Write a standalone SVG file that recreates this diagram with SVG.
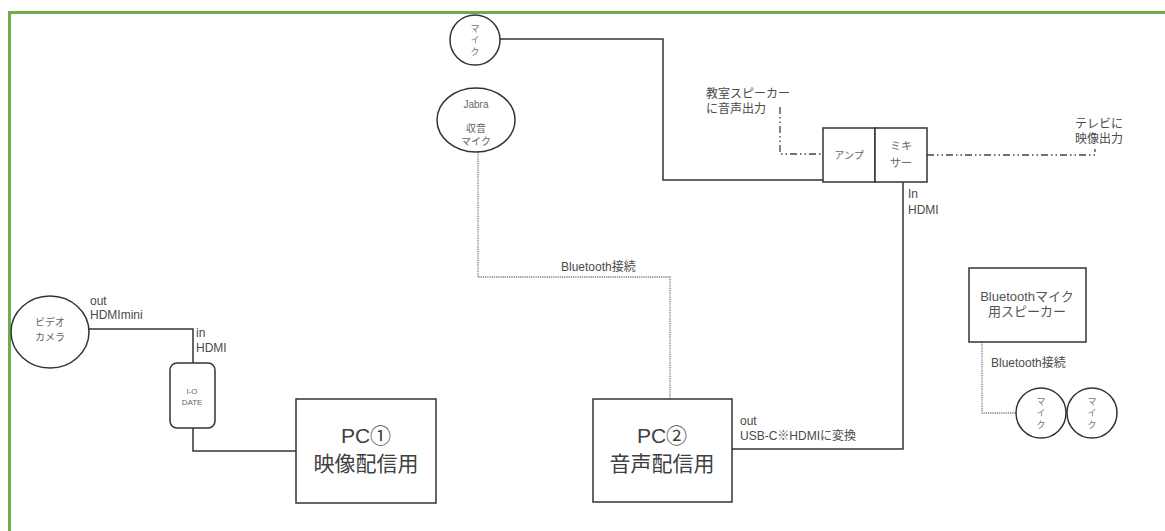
<svg xmlns="http://www.w3.org/2000/svg" width="1165" height="531" viewBox="0 0 1165 531">
<style>
.t{font-family:"Liberation Sans","Noto Sans CJK JP",sans-serif;fill:#555}
.s{font-size:12px;fill:#4a4a4a}
.xs{font-size:9px;fill:#777}
.pc{font-size:21px;fill:#404040;text-anchor:middle}
.c{text-anchor:middle}
.box{fill:#fff;stroke:#333;stroke-width:1.5}
.ln{fill:none;stroke:#333;stroke-width:1.5}
.dot{fill:none;stroke:#777;stroke-width:1.3;stroke-dasharray:1.2 1}
.dd{fill:none;stroke:#444;stroke-width:1.3;stroke-dasharray:7 3 1.5 3 1.5 3}
</style>
<rect x="0" y="0" width="1165" height="531" fill="#fff"/>
<path d="M9.5 531 V12.5 H1165" fill="none" stroke="#70AD47" stroke-width="3"/>
<g id="connectors">
<path class="ln" d="M500 39 H663 V180 H823"/>
<path class="dot" d="M478 152 V277 H670 V399"/>
<path class="dd" d="M780 107 V154 H823"/>
<path class="dd" d="M927 155 H1095 V149"/>
<path class="ln" d="M903 182 V449 H732"/>
<path class="ln" d="M89 329 H193 V363"/>
<path class="ln" d="M193 428 V451 H296"/>
<path class="dot" d="M982 342 V413 H1016"/>
</g>
<g id="labels">
<text class="t s" x="561" y="271">Bluetooth接続</text>
<text class="t s" x="706" y="98">教室スピーカー</text>
<text class="t s" x="706" y="113">に音声出力</text>
<text class="t s" x="1075" y="128">テレビに</text>
<text class="t s" x="1075" y="143">映像出力</text>
<text class="t s" x="908" y="198">In</text>
<text class="t s" x="908" y="214">HDMI</text>
<text class="t s" x="740" y="425">out</text>
<text class="t s" x="740" y="440">USB-C※HDMIに変換</text>
<text class="t s" x="90" y="305">out</text>
<text class="t s" x="90" y="319">HDMImini</text>
<text class="t s" x="196" y="337">in</text>
<text class="t s" x="196" y="352">HDMI</text>
<text class="t s" x="991" y="367">Bluetooth接続</text>
</g>
<g id="mic-top">
<circle class="box" cx="475" cy="40" r="25"/>
<text class="t xs c" x="475" y="32">マ</text>
<text class="t xs c" x="475" y="43">イ</text>
<text class="t xs c" x="475" y="55">ク</text>
</g>
<g id="jabra">
<ellipse class="box" cx="476" cy="120" rx="39" ry="32"/>
<text class="t c" style="font-size:10px;fill:#666" x="476" y="108">Jabra</text>
<text class="t c" style="font-size:10px;fill:#666" x="476" y="132">収音</text>
<text class="t c" style="font-size:10px;fill:#666" x="476" y="145">マイク</text>
</g>
<g id="amp">
<rect class="box" x="823" y="128" width="52" height="54"/>
<text class="t c" style="font-size:10px;fill:#666" x="849" y="159">アンプ</text>
</g>
<g id="mixer">
<rect class="box" x="875" y="128" width="52" height="54"/>
<text class="t c" style="font-size:11px;fill:#666" x="901" y="150">ミキ</text>
<text class="t c" style="font-size:11px;fill:#666" x="901" y="167">サー</text>
</g>
<g id="camera">
<ellipse class="box" cx="50" cy="332" rx="39" ry="36"/>
<text class="t c" style="font-size:10px;fill:#666" x="50" y="326">ビデオ</text>
<text class="t c" style="font-size:10px;fill:#666" x="50" y="341">カメラ</text>
</g>
<g id="iodata">
<rect class="box" x="170" y="363" width="45" height="65" rx="7"/>
<text class="t c" style="font-size:8px;fill:#666" x="192" y="394">I-O</text>
<text class="t c" style="font-size:8px;fill:#666" x="192" y="405">DATE</text>
</g>
<g id="pc1">
<rect class="box" x="296" y="399" width="140" height="104"/>
<text class="t pc" x="366" y="443">PC①</text>
<text class="t pc" x="366" y="471">映像配信用</text>
</g>
<g id="pc2">
<rect class="box" x="593" y="399" width="139" height="103"/>
<text class="t pc" x="662" y="443">PC②</text>
<text class="t pc" x="662" y="471">音声配信用</text>
</g>
<g id="bt-speaker">
<rect class="box" x="969" y="268" width="117" height="74"/>
<text class="t c" style="font-size:13px" x="1027" y="301">Bluetoothマイク</text>
<text class="t c" style="font-size:13px" x="1027" y="316">用スピーカー</text>
</g>
<g id="mic-a">
<circle class="box" cx="1041" cy="413" r="25"/>
<text class="t xs c" x="1041" y="405">マ</text>
<text class="t xs c" x="1041" y="416">イ</text>
<text class="t xs c" x="1041" y="428">ク</text>
</g>
<g id="mic-b">
<circle class="box" cx="1092" cy="413" r="25"/>
<text class="t xs c" x="1092" y="405">マ</text>
<text class="t xs c" x="1092" y="416">イ</text>
<text class="t xs c" x="1092" y="428">ク</text>
</g>
</svg>
